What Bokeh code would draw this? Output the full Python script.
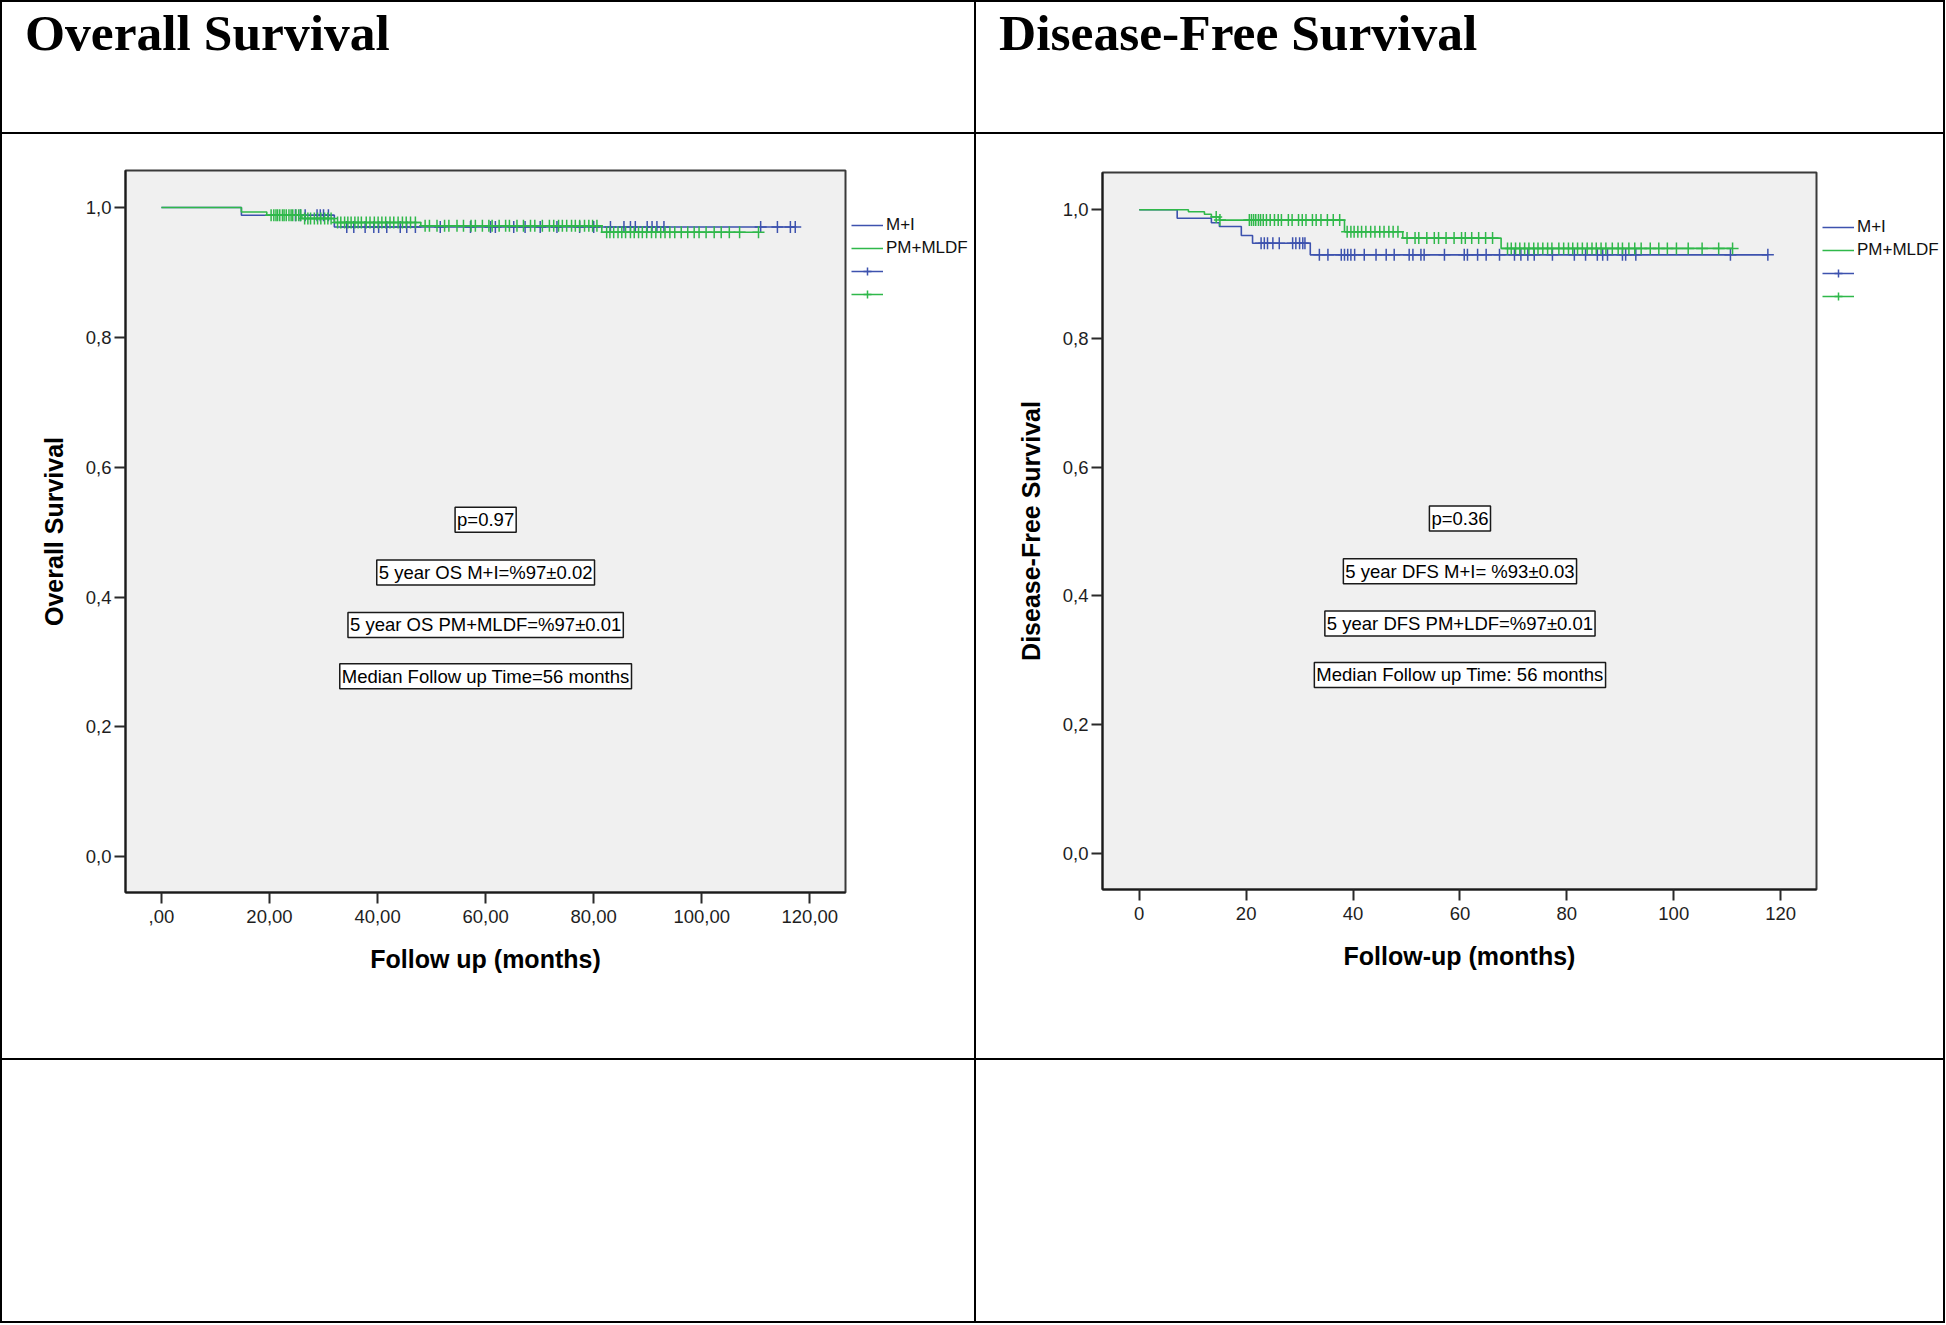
import numpy as np
from bokeh.plotting import figure
from bokeh.models import Label, Legend, LegendItem, FixedTicker, Range1d, Spacer, Div
from bokeh.layouts import row, column
from bokeh.core.properties import value
from bokeh.embed import file_html
from bokeh.resources import INLINE

# ---------------- data ----------------
panel_titles = ["Overall Survival", "Disease-Free Survival"]
group_names = ["M+I", "PM+MLDF"]

# Overall survival, group M+I (step times / survival)
os_mi_time = [0, 14.8, 32.0, 117.3]
os_mi_surv = [1.0, 0.988, 0.970, 0.970]
os_mi_censor = [24.8, 25.7, 26.6, 28.8, 29.4, 30.0, 30.9, 34.3, 35.6, 37.7, 39.3, 40.2,
                41.7, 44.2, 45.4, 47.0, 51.6, 57.2, 60.9, 61.8, 65.2, 67.3, 70.1, 73.2,
                77.4, 80.0, 83.1, 85.6, 86.8, 87.7, 89.9, 90.8, 91.7, 93.0, 110.9, 114.0,
                116.4, 117.3]
# Overall survival, group PM+MLDF
os_pm_time = [0, 14.8, 19.5, 26.0, 32.0, 48.0, 81.5, 110.5]
os_pm_surv = [1.0, 0.993, 0.988, 0.983, 0.977, 0.972, 0.962, 0.962]
os_pm_censor = [20.3, 20.8, 21.2, 21.5, 21.9, 22.4, 22.7, 23.1, 23.6, 24.0, 24.3, 24.9,
                25.4, 25.8, 26.5, 27.1, 27.6, 28.3, 28.9, 29.5, 30.2, 30.8, 31.4, 32.6,
                33.2, 33.9, 34.5, 35.1, 35.8, 36.4, 37.0, 37.9, 38.6, 39.4, 40.1, 40.8,
                41.5, 42.3, 43.0, 43.8, 44.6, 45.3, 46.1, 47.0, 48.8, 49.6, 51.0, 52.4,
                53.2, 54.7, 55.9, 57.3, 58.1, 59.4, 60.6, 61.2, 62.5, 63.7, 64.4, 65.8,
                67.0, 68.3, 69.1, 70.5, 71.8, 72.6, 73.5, 74.2, 75.0, 75.9, 76.6, 77.4,
                78.3, 79.1, 79.8, 80.6, 82.4, 83.0, 83.7, 84.5, 85.2, 85.9, 86.8, 87.5,
                88.3, 89.0, 89.8, 90.7, 91.5, 92.4, 93.2, 94.1, 95.0, 96.2, 97.4, 98.6,
                99.5, 100.8, 102.3, 103.6, 105.1, 107.0, 110.5]

# Disease-free survival, group M+I
dfs_mi_time = [0, 7.1, 13.5, 15.0, 19.1, 21.2, 32.0, 117.6]
dfs_mi_surv = [1.0, 0.987, 0.980, 0.974, 0.960, 0.948, 0.930, 0.930]
dfs_mi_censor = [22.8, 23.4, 24.0, 25.0, 26.2, 28.7, 29.3, 30.0, 30.6, 31.0, 33.7, 35.3,
                 37.8, 38.4, 39.0, 39.6, 40.3, 42.1, 44.3, 46.2, 47.7, 50.5, 51.2, 52.7,
                 53.3, 57.1, 60.8, 61.4, 63.3, 64.9, 67.4, 70.2, 71.4, 72.7, 73.9, 77.3,
                 81.4, 83.5, 85.7, 86.7, 87.6, 90.4, 91.0, 92.9, 110.6, 117.6]
# Disease-free survival, group PM+MLDF
dfs_pm_time = [0, 9.2, 12.2, 13.5, 15.0, 38.4, 49.3, 67.7, 111.0]
dfs_pm_surv = [1.0, 0.997, 0.993, 0.989, 0.984, 0.966, 0.956, 0.940, 0.940]
dfs_pm_censor = [14.4, 15.1, 20.6, 21.0, 21.4, 21.8, 22.3, 22.7, 23.2, 23.8, 24.5, 25.3,
                 26.0, 26.6, 27.9, 28.6, 29.8, 30.5, 31.2, 32.4, 33.1, 34.0, 35.2, 36.3,
                 37.5, 38.9, 39.6, 40.2, 40.9, 41.6, 42.4, 43.3, 44.1, 45.0, 45.8, 46.7,
                 47.5, 48.4, 50.1, 51.6, 52.3, 53.8, 55.2, 56.0, 57.4, 58.9, 60.3, 61.0,
                 62.2, 63.5, 64.8, 66.1, 68.9, 69.6, 70.4, 71.2, 72.1, 72.9, 73.8, 74.6,
                 75.5, 76.4, 77.2, 78.5, 79.4, 80.3, 81.1, 82.0, 82.9, 83.8, 84.7, 85.5,
                 86.4, 87.3, 88.5, 89.6, 90.4, 91.6, 92.7, 93.9, 95.6, 97.2, 98.8, 100.5,
                 102.7, 105.3, 108.4, 111.0]

# tick values / labels
x_ticks = [0, 20, 40, 60, 80, 100, 120]
os_x_labels = [",00", "20,00", "40,00", "60,00", "80,00", "100,00", "120,00"]
dfs_x_labels = ["0", "20", "40", "60", "80", "100", "120"]
y_ticks = [0.0, 0.2, 0.4, 0.6, 0.8, 1.0]
y_labels = ["0,0", "0,2", "0,4", "0,6", "0,8", "1,0"]

# annotation boxes (x position in months, y in survival units)
os_notes = ["p=0.97", "5 year OS M+I=%97\u00b10.02", "5 year OS PM+MLDF=%97\u00b10.01",
            "Median Follow up Time=56 months"]
os_note_y = [0.519, 0.438, 0.357, 0.278]
dfs_notes = ["p=0.36", "5 year DFS M+I= %93\u00b10.03", "5 year DFS PM+LDF=%97\u00b10.01",
             "Median Follow up Time: 56 months"]
dfs_note_y = [0.520, 0.438, 0.357, 0.277]
note_x = 60

BLUE = "#3D52AE"
GREEN = "#2FB84A"

W_L, W_R = 972, 967          # table cell widths
LEG_L, LEG_R = 127, 125      # legend strip widths (right of each plot)
H_T, H_C, H_B = 130, 924, 261
LW = 2
TOTAL_H = LW * 4 + H_T + H_C + H_B


def rule(w, h):
    return Spacer(width=w, height=h, margin=0, styles={"background-color": "black"})


def title_cell(w, text):
    html = ('<div style="padding:5px 0 0 23px; font-family:\'Liberation Serif\',\'Times New Roman\',serif;'
            ' font-weight:bold; font-size:51.5px; line-height:51px; color:black; white-space:nowrap;">'
            + text + '</div>')
    return Div(text=html, width=w, height=H_T, margin=0,
               styles={"background-color": "white", "overflow": "hidden"})


def surv_at(times, surv, cens):
    t = np.asarray(times)
    s = np.asarray(surv)
    idx = np.searchsorted(t, np.asarray(cens), side="right") - 1
    return s[idx]


def draw_groups(p, groups):
    lines, marks = [], []
    for times, surv, cens, color in groups:
        lines.append(p.step(x=times, y=surv, mode="after", line_color=color, line_width=1.6))
        marks.append(p.scatter(x=cens, y=surv_at(times, surv, cens), marker="cross", size=12,
                               line_color=color, line_width=1.5))
    return lines, marks


def chart(w, xr, yr, mb, x_labels, xtitle, ytitle, groups, notes, note_y):
    p = figure(width=w, height=H_C, x_range=Range1d(*xr), y_range=Range1d(*yr),
               output_backend="svg", toolbar_location=None, margin=0,
               min_border_left=mb[0], min_border_right=2,
               min_border_top=mb[1], min_border_bottom=mb[2],
               background_fill_color="#F0F0F0", border_fill_color="white",
               outline_line_color="#3a3a3a", outline_line_width=2)
    p.grid.visible = False
    draw_groups(p, groups)

    for txt, yv in zip(notes, note_y):
        p.add_layout(Label(x=note_x, y=yv, text=txt, text_font="Liberation Sans",
                           text_font_size="18.5px", text_color="black",
                           text_align="center", text_baseline="middle",
                           background_fill_color="white", border_line_color="#1a1a1a",
                           border_line_width=1.5, padding=2))

    p.xaxis.ticker = FixedTicker(ticks=x_ticks)
    p.xaxis.major_label_overrides = dict(zip(x_ticks, x_labels))
    p.yaxis.ticker = FixedTicker(ticks=y_ticks)
    p.yaxis.major_label_overrides = dict(zip(y_ticks, y_labels))
    p.xaxis.axis_label = xtitle
    p.yaxis.axis_label = ytitle
    for ax in (p.xaxis, p.yaxis):
        ax.axis_label_text_font = "Liberation Sans"
        ax.axis_label_text_font_style = "bold"
        ax.axis_label_text_font_size = "25px"
        ax.axis_label_text_color = "black"
        ax.major_label_text_font = "Liberation Sans"
        ax.major_label_text_font_size = "18.5px"
        ax.major_label_text_color = "#1e1e1e"
        ax.major_tick_out = 11
        ax.major_tick_in = 0
        ax.major_tick_line_width = 2
        ax.major_tick_line_color = "#2a2a2a"
        ax.minor_tick_out = 0
        ax.minor_tick_in = 0
        ax.axis_line_width = 2
        ax.axis_line_color = "#1a1a1a"
    p.xaxis.major_label_standoff = 6
    p.xaxis.axis_label_standoff = 19
    p.yaxis.major_label_standoff = 3
    p.yaxis.axis_label_standoff = 15
    return p


def legend_strip(w, mb, loc, groups):
    # companion figure carrying the legend to the right of the plot frame;
    # its ranges keep the series themselves out of view, only the legend shows
    f = figure(width=w, height=H_C, x_range=Range1d(-30, -20), y_range=Range1d(0, 1),
               output_backend="svg", toolbar_location=None, margin=0,
               x_axis_type=None, y_axis_type=None,
               min_border_left=0, min_border_right=0,
               min_border_top=mb[1], min_border_bottom=mb[2],
               background_fill_color="white", border_fill_color="white",
               outline_line_color=None)
    f.grid.visible = False
    lines, marks = draw_groups(f, groups)
    legend = Legend(items=[
        LegendItem(label=value(group_names[0]), renderers=[lines[0]]),
        LegendItem(label=value(group_names[1]), renderers=[lines[1]]),
        LegendItem(label=value(" "), renderers=[lines[0], marks[0]]),
        LegendItem(label=value("  "), renderers=[lines[1], marks[1]]),
    ], location=loc, border_line_color=None, background_fill_alpha=0,
        padding=0, margin=0, spacing=3, glyph_width=32, glyph_height=20,
        label_height=20, label_standoff=3, label_text_font="Liberation Sans",
        label_text_font_size="17px", label_text_color="#111111")
    f.add_layout(legend)
    return f


MB_OS = (123, 36, 166)
MB_DFS = (126, 38, 169)

os_groups = [(os_mi_time, os_mi_surv, os_mi_censor, BLUE),
             (os_pm_time, os_pm_surv, os_pm_censor, GREEN)]
dfs_groups = [(dfs_mi_time, dfs_mi_surv, dfs_mi_censor, BLUE),
              (dfs_pm_time, dfs_pm_surv, dfs_pm_censor, GREEN)]

chart_os = chart(W_L - LEG_L, (-6.65, 126.6), (-0.055, 1.057), MB_OS,
                 os_x_labels, "Follow up (months)", "Overall Survival",
                 os_groups, os_notes, os_note_y)
chart_dfs = chart(W_R - LEG_R, (-6.87, 126.7), (-0.0565, 1.058), MB_DFS,
                  dfs_x_labels, "Follow-up (months)", "Disease-Free Survival",
                  dfs_groups, dfs_notes, dfs_note_y)
leg_os = legend_strip(LEG_L, MB_OS, (4, 924 - 36 - 166 - 134), os_groups)
leg_dfs = legend_strip(LEG_R, MB_DFS, (4, 924 - 38 - 169 - 134), dfs_groups)

left_col = column(rule(W_L, LW), title_cell(W_L, panel_titles[0]), rule(W_L, LW),
                  row(chart_os, leg_os, spacing=0, margin=0),
                  rule(W_L, LW), Spacer(width=W_L, height=H_B, margin=0),
                  rule(W_L, LW), spacing=0, margin=0)
right_col = column(rule(W_R, LW), title_cell(W_R, panel_titles[1]), rule(W_R, LW),
                   row(chart_dfs, leg_dfs, spacing=0, margin=0),
                   rule(W_R, LW), Spacer(width=W_R, height=H_B, margin=0),
                   rule(W_R, LW), spacing=0, margin=0)
layout = row(rule(LW, TOTAL_H), left_col, rule(LW, TOTAL_H), right_col, rule(LW, TOTAL_H),
             spacing=0, margin=0)

open("out.html", "w").write(file_html(layout, INLINE))
